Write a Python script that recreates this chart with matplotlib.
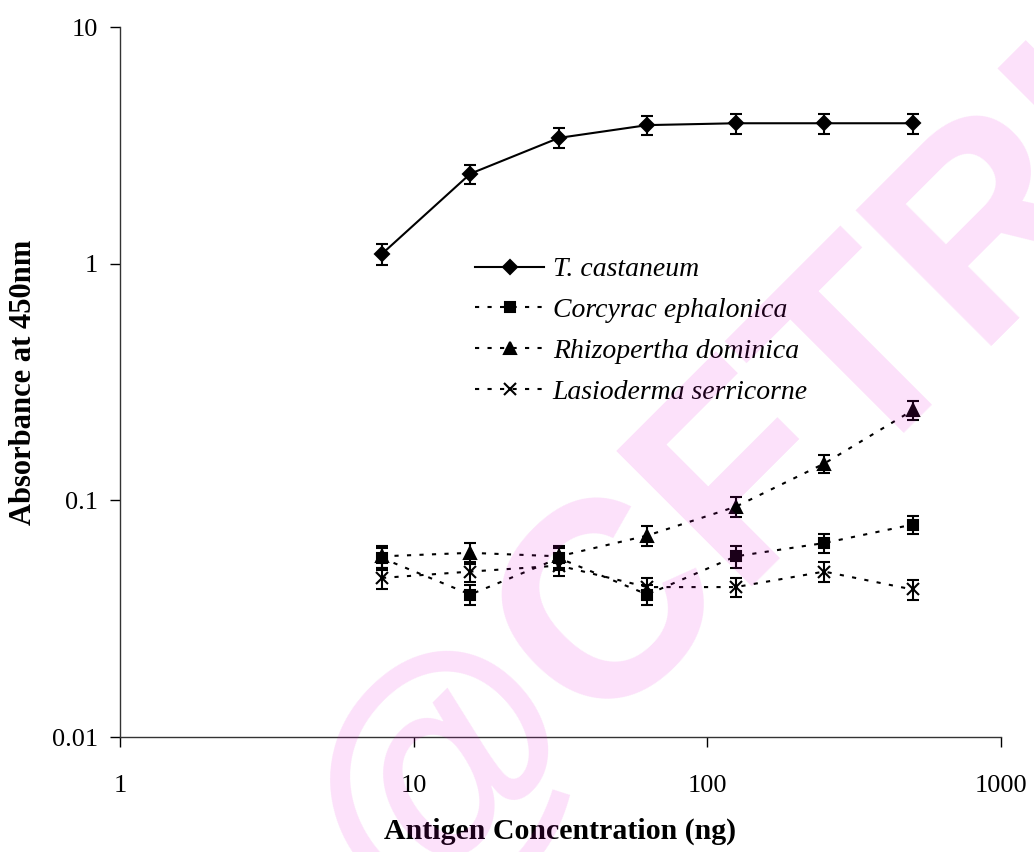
import matplotlib
matplotlib.use("Agg")
import matplotlib.pyplot as plt
from matplotlib.ticker import FixedLocator, FixedFormatter, NullLocator

# antigen concentration (ng)
conc = [7.8, 15.6, 31.25, 62.5, 125, 250, 500]

t_castaneum = [1.10, 2.40, 3.40, 3.85, 3.92, 3.92, 3.92]
t_castaneum_err = [0.11, 0.22, 0.33, 0.37, 0.38, 0.38, 0.38]

corcyra = [0.057, 0.040, 0.057, 0.040, 0.058, 0.066, 0.079]
corcyra_err = [0.006, 0.004, 0.006, 0.004, 0.006, 0.006, 0.007]

rhizopertha = [0.058, 0.060, 0.058, 0.071, 0.094, 0.143, 0.240]
rhizopertha_err = [0.006, 0.006, 0.006, 0.007, 0.009, 0.013, 0.022]

lasioderma = [0.047, 0.050, 0.053, 0.043, 0.043, 0.050, 0.042]
lasioderma_err = [0.005, 0.005, 0.005, 0.004, 0.004, 0.005, 0.004]

x_ticks = [1, 10, 100, 1000]
y_ticks = [0.01, 0.1, 1, 10]

plt.rcParams['font.family'] = ['Liberation Serif', 'DejaVu Serif']

fig = plt.figure(figsize=(10.34, 8.52), dpi=100)
ax = fig.add_axes([120 / 1034, 1 - 737 / 852, 881 / 1034, 710 / 852])

dotted = (0, (2, 4))
series = [
    (t_castaneum, t_castaneum_err, 'D', 7, '-', 'T. castaneum'),
    (corcyra, corcyra_err, 's', 7, dotted, 'Corcyrac ephalonica'),
    (rhizopertha, rhizopertha_err, '^', 8, dotted, 'Rhizopertha dominica'),
    (lasioderma, lasioderma_err, 'x', 8, dotted, 'Lasioderma serricorne'),
]

handles = []
for vals, err, mk, ms, ls, lab in series:
    eb = ax.errorbar(conc, vals, yerr=err, color='black', marker=mk, markersize=ms,
                     linestyle=ls, linewidth=1.5, elinewidth=1.5, capsize=4.5,
                     capthick=1.5, markeredgewidth=1.5, label=lab)
    handles.append(eb[0])

ax.set_xscale('log')
ax.set_yscale('log')
ax.set_xlim(1, 1000)
ax.set_ylim(0.01, 10)

ax.xaxis.set_major_locator(FixedLocator(x_ticks))
ax.xaxis.set_major_formatter(FixedFormatter([str(t) for t in x_ticks]))
ax.xaxis.set_minor_locator(NullLocator())
ax.yaxis.set_major_locator(FixedLocator(y_ticks))
ax.yaxis.set_major_formatter(FixedFormatter(['0.01', '0.1', '1', '10']))
ax.yaxis.set_minor_locator(NullLocator())

ax.spines['top'].set_visible(False)
ax.spines['right'].set_visible(False)
for s in ['left', 'bottom']:
    ax.spines[s].set_linewidth(1.0)
    ax.spines[s].set_color('#333333')

ax.tick_params(axis='x', direction='out', length=7, width=1, pad=20, labelsize=19)
ax.tick_params(axis='y', direction='out', length=7, width=1, pad=9, labelsize=19)

ax.set_xlabel('Antigen Concentration (ng)', fontsize=21.5, fontweight='bold', labelpad=15)
ax.set_ylabel('Absorbance at 450nm', fontsize=22, fontweight='bold', labelpad=10)

leg = ax.legend(handles=handles, labels=[s[5] for s in series],
                loc='upper left', bbox_to_anchor=(475 / 1034, 1 - 257 / 852),
                bbox_transform=fig.transFigure, frameon=False,
                prop={'style': 'italic', 'size': 20}, handlelength=2.5,
                handletextpad=0.3, labelspacing=0.55, borderpad=0, borderaxespad=0)

# watermark
fig.text(0.711, 0.431, '@CFTRI', fontsize=200, fontweight='bold', family='Liberation Sans',
         color=(230 / 255, 5 / 255, 213 / 255), alpha=0.12, rotation=45,
         ha='center', va='center', zorder=10)

fig.savefig('out.png', dpi=100)
